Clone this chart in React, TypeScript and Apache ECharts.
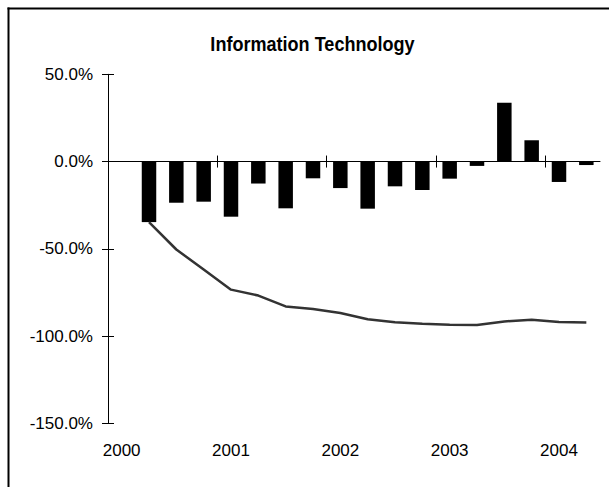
import React, { useEffect, useRef } from "react";
import * as echarts from "echarts";

const quarters = [
  "2000 Q1", "2000 Q2", "2000 Q3", "2000 Q4",
  "2001 Q1", "2001 Q2", "2001 Q3", "2001 Q4",
  "2002 Q1", "2002 Q2", "2002 Q3", "2002 Q4",
  "2003 Q1", "2003 Q2", "2003 Q3", "2003 Q4",
  "2004 Q1", "2004 Q2",
];

// Quarterly return (%) – bars
const quarterlyReturn: (number | null)[] = [
  null, -34.7, -23.6, -23.0,
  -31.6, -12.6, -26.8, -9.6,
  -15.2, -27.0, -14.2, -16.3,
  -9.8, -2.5, 33.7, 12.2,
  -11.7, -2.0,
];

// Cumulative return (%) – line
const cumulativeReturn: (number | null)[] = [
  null, -34.7, -50.4, -61.9,
  -73.4, -76.8, -83.0, -84.5,
  -86.8, -90.4, -92.1, -92.9,
  -93.5, -93.7, -91.6, -90.6,
  -92.0, -92.2,
];

const chartTitle = "Information Technology";
const yearTickPositions = [4, 8, 12, 16];
const yMin = -150;
const yMax = 50;
const yStep = 50;

const FONT = "'Liberation Sans', Arial, sans-serif";

export default function App() {
  const ref = useRef<HTMLDivElement>(null);

  useEffect(() => {
    if (!ref.current) return;
    const chart = echarts.init(ref.current, undefined, { renderer: "svg" });

    const tickAxis = (inside: boolean) => ({
      type: "value" as const,
      min: 0,
      max: quarters.length,
      position: "bottom" as const,
      axisLine: { show: false, onZero: true, onZeroAxisIndex: 0 },
      axisTick: {
        show: true,
        inside,
        length: 6,
        customValues: yearTickPositions,
        lineStyle: { color: "#000", width: 1 },
      },
      axisLabel: { show: false },
      splitLine: { show: false },
    });

    const yAxisBase = (inside: boolean, labels: boolean) => ({
      type: "value" as const,
      position: "left" as const,
      min: yMin,
      max: yMax,
      interval: yStep,
      axisLine: { show: labels, lineStyle: { color: "#000", width: 1 } },
      axisTick: { show: true, inside, length: 6, lineStyle: { color: "#000", width: 1 } },
      axisLabel: {
        show: labels,
        margin: 15,
        color: "#000",
        fontSize: 17,
        fontFamily: FONT,
        formatter: (v: number) => `${v.toFixed(1)}%`,
      },
      splitLine: { show: false },
    });

    chart.setOption({
      animation: false,
      backgroundColor: "#fff",
      grid: { left: 108, top: 74.3, right: 9, bottom: 63.7, containLabel: false },
      xAxis: [
        {
          type: "category",
          data: quarters,
          position: "bottom",
          boundaryGap: true,
          axisLine: { show: true, onZero: true, onZeroAxisIndex: 0, lineStyle: { color: "#000", width: 1 } },
          axisTick: { show: false },
          axisLabel: { show: false },
          splitLine: { show: false },
        },
        tickAxis(false),
        tickAxis(true),
        {
          type: "category",
          data: quarters,
          position: "bottom",
          boundaryGap: true,
          axisLine: { show: false, onZero: false },
          axisTick: { show: false },
          axisLabel: {
            show: true,
            margin: 19,
            color: "#000",
            fontSize: 17,
            fontFamily: FONT,
            interval: (i: number) => i % 4 === 0,
            formatter: (v: string) => v.slice(0, 4),
          },
          splitLine: { show: false },
        },
      ],
      yAxis: [yAxisBase(false, true), yAxisBase(true, false)],
      series: [
        {
          type: "bar",
          name: "Quarterly",
          data: quarterlyReturn,
          xAxisIndex: 0,
          yAxisIndex: 0,
          barWidth: "53%",
          itemStyle: { color: "#000" },
          z: 2,
        },
        {
          type: "line",
          name: "Cumulative",
          data: cumulativeReturn,
          xAxisIndex: 0,
          yAxisIndex: 0,
          symbol: "none",
          lineStyle: { color: "#333", width: 2.5 },
          z: 3,
        },
      ],
      graphic: [
        {
          type: "text",
          x: 312.5,
          y: 43,
          scaleX: 0.86,
          style: {
            text: chartTitle,
            fontFamily: FONT,
            fontWeight: "bold",
            fontSize: 21,
            fill: "#000",
            textAlign: "center",
            textVerticalAlign: "middle",
          },
        },
        {
          type: "line",
          shape: { x1: 7.5, y1: 8.5, x2: 609, y2: 8.5 },
          style: { stroke: "#000", lineWidth: 2 },
        },
        {
          type: "line",
          shape: { x1: 8.5, y1: 7.5, x2: 8.5, y2: 487 },
          style: { stroke: "#000", lineWidth: 2 },
        },
      ],
    });

    return () => chart.dispose();
  }, []);

  return (
    <div
      style={{
        position: "fixed",
        left: 0,
        top: 0,
        width: 609,
        height: 487,
        overflow: "hidden",
        background: "#fff",
      }}
    >
      <div ref={ref} style={{ width: 609, height: 487 }} />
    </div>
  );
}
